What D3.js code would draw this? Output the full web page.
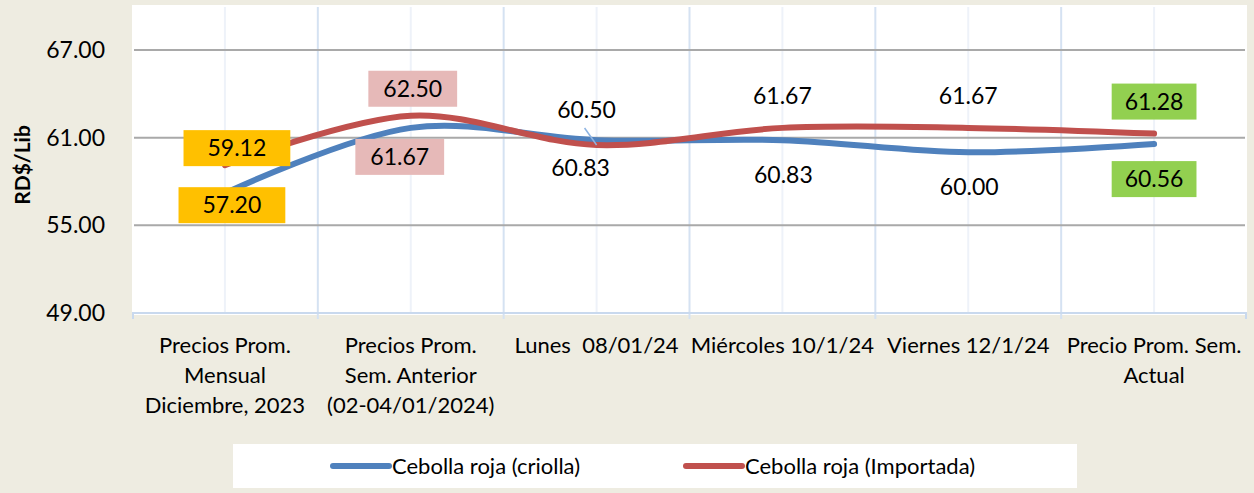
<!DOCTYPE html>
<html>
<head>
<meta charset="utf-8">
<script src="https://cdn.jsdelivr.net/npm/d3@7/dist/d3.min.js"></script>
<style>
  body { margin: 0; background: #EEECE1; }
  text { font-family: Lato, "Liberation Sans", sans-serif; fill: #000; }
</style>
</head>
<body>
<div id="chart"></div>
<script>
// categories (multi-line labels)
const categories = [
    ["Precios Prom.", "Mensual", "Diciembre, 2023"],
    ["Precios Prom.", "Sem. Anterior", "(02-04/01/2024)"],
    ["Lunes  08/01/24"],
    ["Miércoles 10/1/24"],
    ["Viernes 12/1/24"],
    ["Precio Prom. Sem.", "Actual"]
];
const criolla = [57.20, 61.67, 60.83, 60.83, 60.00, 60.56];
const importada = [59.12, 62.50, 60.50, 61.67, 61.67, 61.28];
const yTicks = [49, 55, 61, 67];
const seriesNames = ["Cebolla roja (criolla)", "Cebolla roja (Importada)"];

const W = 1254, H = 493;
const PLOT = {left: 132, right: 1247, top: 5, bottom: 315};

// label placement (offset from the point, in px) and box fill per category
const labelCfg = {
    criolla:   [[7, 12], [-11, 29], [-16, 28], [1, 35], [1, 35], [0, 35]],
    importada: [[12, -17], [2, -27], [-10, -35], [0, -32], [0, -32], [0, -32]]
};
const boxFill = ["#FFC000", "#E6B9B8", null, null, null, "#92D050"];
const boxPad = [24, 15, 0, 0, 0, 13];

const svg = d3.select("#chart").append("svg")
    .attr("width", W)
    .attr("height", H);

// plot background
svg.append("rect")
    .attr("x", PLOT.left).attr("y", PLOT.top)
    .attr("width", PLOT.right - PLOT.left)
    .attr("height", PLOT.bottom - PLOT.top)
    .attr("fill", "#fff");

const keys = categories.map((c, i) => i);

const xBand = d3.scaleBand()
    .domain(keys)
    .range([PLOT.left, PLOT.right]);
const x = d => xBand(d) + xBand.bandwidth() / 2;

const y = d3.scaleLinear()
    .domain([49, 67])
    .range([313, 50]);

// vertical lines: centres (faint) and boundaries
svg.append("g").selectAll("line")
    .data(keys)
    .join("line")
    .attr("x1", d => x(d)).attr("x2", d => x(d))
    .attr("y1", PLOT.top + 2).attr("y2", y(49))
    .attr("stroke", "#EEF2F9").attr("stroke-width", 2);

svg.append("g").selectAll("line")
    .data(keys.slice(1))
    .join("line")
    .attr("x1", d => xBand(d)).attr("x2", d => xBand(d))
    .attr("y1", PLOT.top + 2).attr("y2", y(49) + 6)
    .attr("stroke", "#D5E2F2").attr("stroke-width", 2);

// horizontal gridlines
svg.append("g").selectAll("line")
    .data(yTicks.slice(1))
    .join("line")
    .attr("x1", PLOT.left + 2).attr("x2", PLOT.right - 2)
    .attr("y1", d => y(d)).attr("y2", d => y(d))
    .attr("stroke", "#A9A9A9").attr("stroke-width", 2);

// bottom axis line
svg.append("line")
    .attr("x1", PLOT.left).attr("x2", PLOT.right)
    .attr("y1", y(49)).attr("y2", y(49))
    .attr("stroke", "#C9D9EE").attr("stroke-width", 2);
svg.append("g").selectAll("line")
    .data([PLOT.left + 1, PLOT.right - 1])
    .join("line")
    .attr("x1", d => d).attr("x2", d => d)
    .attr("y1", y(49)).attr("y2", y(49) + 6)
    .attr("stroke", "#C9D9EE").attr("stroke-width", 2);

// y tick labels
svg.append("g").selectAll("text")
    .data(yTicks)
    .join("text")
    .attr("x", 105)
    .attr("y", d => y(d))
    .attr("dy", "0.35em")
    .attr("text-anchor", "end")
    .style("font-size", "23px")
    .text(d => d.toFixed(2));

// y axis title
svg.append("text")
    .attr("transform", "translate(23,165) rotate(-90)")
    .attr("dy", "0.35em")
    .attr("text-anchor", "middle")
    .style("font-size", "21px")
    .style("font-weight", "bold")
    .text("RD$/Lib");

// category labels
const catG = svg.append("g").selectAll("text")
    .data(keys)
    .join("text")
    .attr("text-anchor", "middle")
    .style("font-size", "22px")
    .style("white-space", "pre");
catG.selectAll("tspan")
    .data(d => categories[d].map(t => ({t, k: d})))
    .join("tspan")
    .attr("x", d => x(d.k))
    .attr("y", (d, i) => 353 + i * 30)
    .text(d => d.t);

// lines
const line = d3.line()
    .x((d, i) => x(i))
    .y(d => y(d))
    .curve(d3.curveCatmullRom.alpha(0.5));

const series = [
    {name: "criolla", values: criolla, color: "#4F81BD"},
    {name: "importada", values: importada, color: "#C0504D"}
];

svg.append("g").selectAll("path")
    .data(series)
    .join("path")
    .attr("d", d => line(d.values))
    .attr("fill", "none")
    .attr("stroke", d => d.color)
    .attr("stroke-width", 6)
    .attr("stroke-linecap", "round");

// leader line for 60.50
svg.append("line")
    .attr("x1", x(2) - 12).attr("y1", y(importada[2]) - 17)
    .attr("x2", x(2)).attr("y2", y(importada[2]))
    .attr("stroke", "#8DB3E2").attr("stroke-width", 1.5);

// data labels
series.forEach(s => {
    const g = svg.append("g");
    s.values.forEach((v, i) => {
        const [dx, dy] = labelCfg[s.name][i];
        const cx = x(i) + dx, cy = y(v) + dy;
        const t = g.append("text")
            .attr("x", cx).attr("y", cy)
            .attr("dy", "0.35em")
            .attr("text-anchor", "middle")
            .style("font-size", "23px")
            .text(v.toFixed(2));
        if (boxFill[i]) {
            const bb = t.node().getBBox();
            g.insert("rect", "text")
                .attr("x", bb.x - boxPad[i])
                .attr("y", cy - 18)
                .attr("width", bb.width + boxPad[i] * 2)
                .attr("height", 36)
                .attr("fill", boxFill[i]);
        }
    });
});

// legend
const leg = svg.append("g");
leg.append("rect")
    .attr("x", 233).attr("y", 444)
    .attr("width", 844).attr("height", 44)
    .attr("fill", "#fff");
const legX = [333, 686];
series.forEach((s, i) => {
    leg.append("line")
        .attr("x1", legX[i]).attr("x2", legX[i] + 56)
        .attr("y1", 466).attr("y2", 466)
        .attr("stroke", s.color)
        .attr("stroke-width", 6)
        .attr("stroke-linecap", "round");
    leg.append("text")
        .attr("x", legX[i] + 59).attr("y", 466)
        .attr("dy", "0.35em")
        .style("font-size", "22px")
        .text(seriesNames[i]);
});
</script>
</body>
</html>
